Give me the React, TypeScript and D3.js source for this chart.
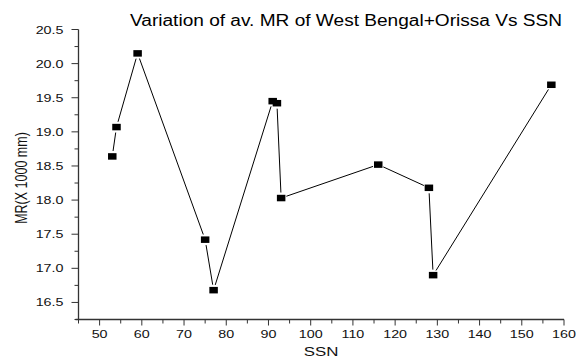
import React from "react";
import * as d3 from "d3";

const ssn = [53, 54, 59, 75, 77, 91, 92, 93, 116, 128, 129, 157];
const mr = [18.64, 19.07, 20.15, 17.42, 16.68, 19.45, 19.42, 18.03, 18.52, 18.18, 16.9, 19.69];
const xTicks = [50, 60, 70, 80, 90, 100, 110, 120, 130, 140, 150, 160];
const yTicks = [16.5, 17.0, 17.5, 18.0, 18.5, 19.0, 19.5, 20.0, 20.5];

const W = 576;
const H = 358;
const left = 78.5;
const right = 564;
const top = 29.5;
const bottom = 319.5;
const font = "'Liberation Sans', Arial, sans-serif";
const stretch = 1.3;

export default function App() {
  const x = d3.scaleLinear().domain([45, 160]).range([left, right]);
  const y = d3.scaleLinear().domain([16.25, 20.5]).range([bottom, top]);

  const pts = ssn.map((s, i) => [x(s), y(mr[i])] as [number, number]);
  const gap = 5.5;
  const segs = pts.slice(1).map((p, i) => {
    const q = pts[i];
    const dx = p[0] - q[0];
    const dy = p[1] - q[1];
    const len = Math.hypot(dx, dy);
    const ux = dx / len;
    const uy = dy / len;
    return [q[0] + ux * gap, q[1] + uy * gap, p[0] - ux * gap, p[1] - uy * gap];
  });

  const xMinor = d3.range(45, 161, 5).filter((v) => v % 10 !== 0);
  const yMinor = d3.range(16.25, 20.5, 0.5);

  return (
    <div style={{ position: "fixed", left: 0, top: 0 }}>
      <svg width={W} height={H} style={{ display: "block", background: "#fff" }}>
        <text
          x={130}
          y={26}
          textLength={432}
          lengthAdjust="spacingAndGlyphs"
          fontFamily={font}
          fontSize={16}
          fill="#000"
        >
          Variation of av. MR of West Bengal+Orissa Vs SSN
        </text>

        {/* axes */}
        <line x1={left} y1={top} x2={left} y2={bottom} stroke="#333" strokeWidth={1.3} />
        <line x1={left - 3} y1={bottom} x2={right} y2={bottom} stroke="#333" strokeWidth={1.3} />

        {yTicks.map((t) => (
          <g key={"y" + t}>
            <line x1={left - 7} x2={left} y1={y(t)} y2={y(t)} stroke="#333" strokeWidth={1} />
            <text
              transform={`translate(63.5,${y(t) + 4}) scale(${stretch},1)`}
              textAnchor="end"
              fontFamily={font}
              fontSize={11}
              fill="#111"
            >
              {t.toFixed(1)}
            </text>
          </g>
        ))}
        {yMinor.map((t) => (
          <line key={"ym" + t} x1={left - 4} x2={left} y1={y(t)} y2={y(t)} stroke="#333" strokeWidth={1} />
        ))}

        {xTicks.map((t) => (
          <g key={"x" + t}>
            <line x1={x(t)} x2={x(t)} y1={bottom} y2={bottom + 6} stroke="#333" strokeWidth={1} />
            <text
              transform={`translate(${x(t)},${bottom + 18}) scale(${stretch},1)`}
              textAnchor="middle"
              fontFamily={font}
              fontSize={11}
              fill="#111"
            >
              {t}
            </text>
          </g>
        ))}
        {xMinor.map((t) => (
          <line key={"xm" + t} x1={x(t)} x2={x(t)} y1={bottom} y2={bottom + 4} stroke="#333" strokeWidth={1} />
        ))}

        <text
          transform={`translate(321,355.5) scale(${stretch},1)`}
          textAnchor="middle"
          fontFamily={font}
          fontSize={13}
          fill="#111"
        >
          SSN
        </text>
        <text
          transform={`translate(26.5,178) scale(${stretch},1) rotate(-90)`}
          textAnchor="middle"
          fontFamily={font}
          fontSize={12.5}
          fill="#111"
        >
          MR(X 1000 mm)
        </text>

        {/* connecting segments */}
        {segs.map((s, i) => (
          <line key={"s" + i} x1={s[0]} y1={s[1]} x2={s[2]} y2={s[3]} stroke="#000" strokeWidth={1} />
        ))}

        {/* markers */}
        {pts.map((p, i) => (
          <rect key={"m" + i} x={p[0] - 4.25} y={p[1] - 3.25} width={8.5} height={6.5} fill="#000" />
        ))}
      </svg>
    </div>
  );
}
